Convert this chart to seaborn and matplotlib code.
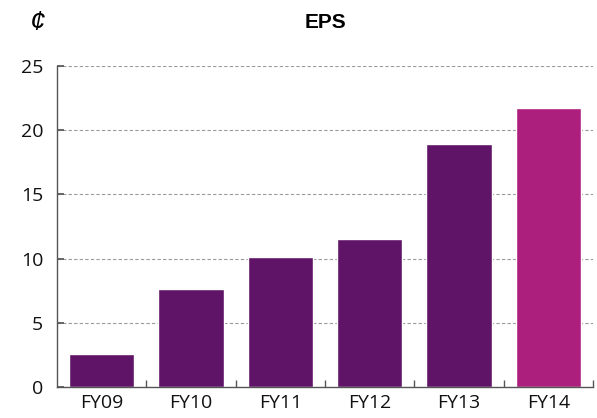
"""EPS bar chart, FY09-FY14."""

import matplotlib.pyplot as plt
import numpy as np
import pandas as pd
import seaborn as sns
from matplotlib.ticker import FixedLocator, NullFormatter

years = ["FY09", "FY10", "FY11", "FY12", "FY13", "FY14"]
eps = [2.6, 7.6, 10.1, 11.5, 18.9, 21.7]
bar_colors = ["#5f1468", "#5f1468", "#5f1468", "#5f1468", "#5f1468", "#ac1f7d"]
y_ticks = [0, 5, 10, 15, 20, 25]

sns.set_theme(style="white")
plt.rcParams["font.family"] = ["Open Sans", "DejaVu Sans"]

df = pd.DataFrame({"year": years, "eps": eps})

fig = plt.figure(figsize=(5.97, 4.18), dpi=100)
ax = fig.add_axes([0.0955, 0.074, 0.898, 0.768])

sns.barplot(data=df, x="year", y="eps", hue="year", palette=bar_colors,
            legend=False, width=0.73, saturation=1, ax=ax)

ax.set_ylim(0, 25)
ax.set_xlim(-0.5, len(years) - 0.5)
ax.set_yticks(y_ticks)
ax.set_xlabel("")
ax.set_ylabel("")

for y in y_ticks[1:]:
    ax.axhline(y, color="#9a9a9a", linestyle=(0, (3, 2)), linewidth=0.8, zorder=0)

for side in ["top", "right"]:
    ax.spines[side].set_visible(False)
for side in ["left", "bottom"]:
    ax.spines[side].set_color("#555555")
    ax.spines[side].set_linewidth(1.0)

ax.tick_params(axis="y", direction="in", length=5, color="#555555",
               labelsize=14, pad=10, left=True, labelcolor="#111111")
ax.tick_params(axis="x", which="major", length=0, labelsize=14, pad=5,
               labelcolor="#111111")
ax.xaxis.set_minor_locator(FixedLocator(np.arange(0.5, len(years), 1.0)))
ax.xaxis.set_minor_formatter(NullFormatter())
ax.tick_params(axis="x", which="minor", direction="in", length=5,
               color="#555555", bottom=True)

fig.text(0.545, 0.945, "EPS", ha="center", va="center", color="black",
         fontsize=15, fontweight="bold", family=["Liberation Sans", "DejaVu Sans"])
fig.text(0.063, 0.945, "\u00a2", ha="center", va="center", color="black",
         fontsize=20, style="italic", family=["Liberation Sans", "DejaVu Sans"])

fig.savefig("out.png", dpi=100)
